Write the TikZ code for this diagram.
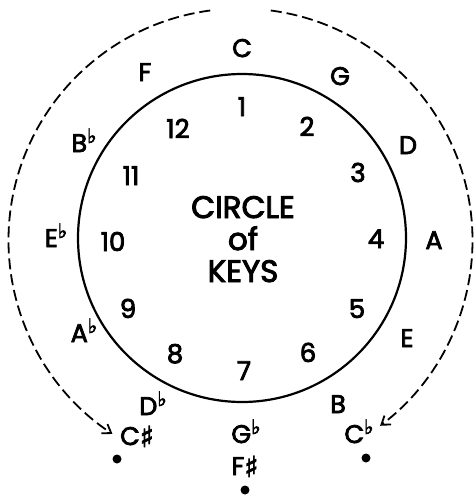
\documentclass[tikz,border=0pt]{standalone}
\usepackage{fontspec}
\setmainfont{Poppins}[UprightFeatures={FakeBold=3}]
\newfontfamily\symfont{DejaVu Sans}[FakeBold=3]
\usetikzlibrary{arrows.meta}
\newcommand{\flt}{\raisebox{9pt}{\symfont\fontsize{20}{20}\selectfont ♭}}
\newcommand{\shp}{\raisebox{-2pt}{\symfont\fontsize{29}{29}\selectfont ♯}}
\begin{document}
\begin{tikzpicture}[x=1pt,y=1pt,
 key/.style={font=\fontsize{25.5}{25.5}\selectfont, inner sep=0pt, anchor=base},
 num/.style={font=\fontsize{26}{26}\selectfont, inner sep=0pt, anchor=base},
 title/.style={font=\fontsize{31}{32}\selectfont, inner sep=0pt, anchor=base, align=center},
 dotmark/.style={circle, fill=black, inner sep=0pt, minimum size=9pt},
 ring/.style={circle, draw, line width=2.2pt, minimum size=328pt, inner sep=0pt},
 dashedarc/.style={line width=1.8pt, dash pattern=on 11pt off 5pt, -{Straight Barb[length=8pt,width=11pt,line width=1.8pt]}}
]
\useasboundingbox (0,0) rectangle (474,-499);

\node[ring] (ring) at (242,-238) {};
\node[title] (title) at (243,-282) {CIRCLE\\of\\KEYS};

% numbers
\node[num] (n1) at (242,-116) {1};
\node[num] (n2) at (307,-136) {2};
\node[num] (n3) at (358,-182) {3};
\node[num] (n4) at (376,-248) {4};
\node[num] (n5) at (357,-318) {5};
\node[num] (n6) at (308,-362) {6};
\node[num] (n7) at (244,-380) {7};
\node[num] (n8) at (175,-363) {8};
\node[num] (n9) at (128,-318) {9};
\node[num] (n10) at (113,-251) {10};
\node[num] (n11) at (131,-185) {11};
\node[num] (n12) at (178,-138) {12};

% keys
\node[key] (kC) at (242,-57) {C};
\node[key] (kG) at (340,-85) {G};
\node[key] (kD) at (408,-154) {D};
\node[key] (kA) at (434,-249) {A};
\node[key] (kE) at (407,-347) {E};
\node[key] (kB) at (338,-413) {B};
\node[key] (kCb) at (359,-443) {C\flt};
\node[key] (kGb) at (246,-443) {G\flt};
\node[key] (kFs) at (245,-475) {F\shp};
\node[key] (kDb) at (153,-415) {D\flt};
\node[key] (kCs) at (137,-445) {C\shp};
\node[key] (kAb) at (84,-342) {A\flt};
\node[key] (kEb) at (56,-247) {E\flt};
\node[key] (kBb) at (84,-152) {B\flt};
\node[key] (kF) at (145,-81) {F};

% dots
\node[dotmark] (dCs) at (117,-459) {};
\node[dotmark] (dFs) at (245,-490) {};
\node[dotmark] (dCb) at (366,-458) {};

% dashed arcs
\coordinate (ctr) at (240.5,-240.5);
\path (ctr) ++(97.5:232) coordinate (sL);
\path (ctr) ++(82.5:232) coordinate (sR);
\draw[dashedarc] (sL) arc[start angle=97.5, end angle=236.5, radius=232pt];
\draw[dashedarc] (sR) arc[start angle=82.5, end angle=-53, radius=232pt];
\end{tikzpicture}
\end{document}
